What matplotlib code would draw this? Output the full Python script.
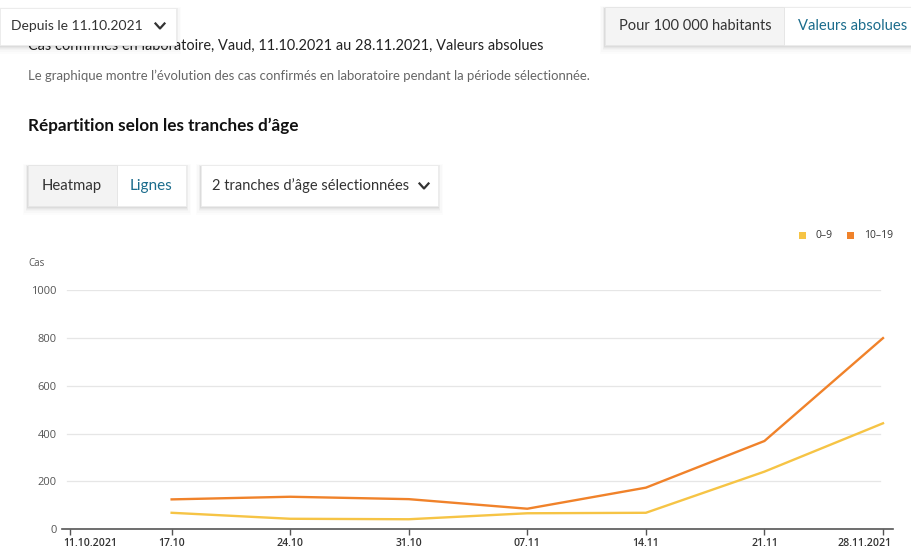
import matplotlib
matplotlib.use("Agg")
import matplotlib.pyplot as plt
from matplotlib.patches import Rectangle
from matplotlib.transforms import ScaledTranslation
import datetime as dt

# ---- data ----
dates = ["17.10.2021", "24.10.2021", "31.10.2021", "07.11.2021", "14.11.2021", "21.11.2021", "28.11.2021"]
age_0_9 = [69, 44, 42, 67, 69, 241, 443]
age_10_19 = [125, 136, 126, 86, 174, 369, 799]
tick_dates = ["11.10.2021", "17.10.2021", "24.10.2021", "31.10.2021", "07.11.2021", "14.11.2021", "21.11.2021", "28.11.2021"]
tick_labels = ["11.10.2021", "17.10", "24.10", "31.10", "07.11", "14.11", "21.11", "28.11.2021"]
y_ticks = [0, 200, 400, 600, 800, 1000]
series_names = ["0–9", "10–19"]
colors = ["#f6c445", "#f0822a"]

W, H = 912, 555
fig = plt.figure(figsize=(W / 100, H / 100), dpi=100)
fig.patch.set_facecolor("white")

UI = "Lato"
CH = "Open Sans"


def fx(x):
    return x / W


def fy(y):
    return 1 - y / H


def box(x0, y0, x1, y1, fc="white", shadow=True, z=5):
    if shadow:
        for d, a in [(1, 0.035), (2, 0.03), (3, 0.025), (4, 0.02), (6, 0.015), (8, 0.01)]:
            r = Rectangle((fx(x0 - d * 0.6), fy(y1 + d + 1)), fx(x1 - x0 + 1.2 * d), (y1 - y0 + d * 1.2) / H,
                          transform=fig.transFigure, facecolor="black", alpha=a, edgecolor="none", zorder=z - 0.5)
            fig.patches.append(r)
    r = Rectangle((fx(x0), fy(y1)), fx(x1 - x0), (y1 - y0) / H, transform=fig.transFigure,
                  facecolor=fc, edgecolor="#ececec", linewidth=0.7, zorder=z)
    fig.patches.append(r)


def chevron(cx, cy, z=7):
    xs = [fx(cx - 4.5), fx(cx), fx(cx + 4.5)]
    ys = [fy(cy - 2.5), fy(cy + 2.5), fy(cy - 2.5)]
    fig.add_artist(plt.Line2D(xs, ys, transform=fig.transFigure, color="#333333", lw=1.6, zorder=z))


# Title (partly hidden by dropdown)
fig.text(fx(28), fy(46), "Cas confirmés en laboratoire, Vaud, 11.10.2021 au 28.11.2021, Valeurs absolues",
         family=UI, fontsize=10.45, color="#222222", va="center", ha="left", zorder=1)

# Dropdown top-left
box(0, 8, 176, 45, z=5)
fig.text(fx(11), fy(26), "Depuis le 11.10.2021", family=UI, fontsize=10, color="#333333", va="center", zorder=7)
chevron(160, 26)

# Right toggle
box(605, 7, 912, 45, z=5)
fig.patches.append(Rectangle((fx(605), fy(45)), fx(179), 38 / H, transform=fig.transFigure,
                             facecolor="#f4f4f4", edgecolor="#e6e6e6", lw=0.7, zorder=6))
fig.text(fx(695.5), fy(26), "Pour 100 000 habitants", family=UI, fontsize=10.5, color="#333333",
         va="center", ha="center", zorder=7)
fig.text(fx(853), fy(26), "Valeurs absolues", family=UI, fontsize=10.6, color="#1b6c8c",
         va="center", ha="center", zorder=7)

# Subtitle
fig.text(fx(28), fy(76), "Le graphique montre l’évolution des cas confirmés en laboratoire pendant la période sélectionnée.",
         family=UI, fontsize=9.45, color="#666666", va="center", ha="left")

# Section heading
fig.text(fx(28), fy(126), "Répartition selon les tranches d’âge", family=UI, fontsize=12.3,
         fontweight="bold", color="#111111", va="center", ha="left")

# Heatmap / Lignes toggle
box(28, 165, 186, 206, shadow=True, z=5)
fig.patches.append(Rectangle((fx(28), fy(206)), fx(89), 41 / H, transform=fig.transFigure,
                             facecolor="#f3f3f3", edgecolor="#e6e6e6", lw=0.7, zorder=6))
fig.text(fx(72), fy(186), "Heatmap", family=UI, fontsize=10.7, color="#333333", va="center", ha="center", zorder=7)
fig.text(fx(151.5), fy(186), "Lignes", family=UI, fontsize=11, color="#1b6c8c", va="center", ha="center", zorder=7)

# Age dropdown
box(201, 165, 438, 206, z=5)
fig.text(fx(212), fy(186), "2 tranches d’âge sélectionnées", family=UI, fontsize=10.5, color="#333333",
         va="center", ha="left", zorder=7)
chevron(424, 186)

# Legend
for name, c, xs, xt in zip(series_names, colors, [803, 851], [816, 864]):
    fig.patches.append(Rectangle((fx(xs - 3.5), fy(239)), fx(7), 7 / H, transform=fig.transFigure,
                                 facecolor=c, edgecolor="none"))
    fig.text(fx(xt), fy(235.5), name, family=CH, fontsize=7.5, color="#333333", va="center", ha="left")

# "Cas" label
fig.text(fx(28), fy(264), "Cas", family=CH, fontsize=7, color="#555555", va="center", ha="left")

# ---- chart axes ----
d0 = dt.datetime.strptime(tick_dates[0], "%d.%m.%Y")
px_per_day = (883 - 70) / 48.0
ax_left, ax_right = 62, 893
xmin = d0 - dt.timedelta(days=(70 - ax_left) / px_per_day)
xmax = d0 + dt.timedelta(days=(ax_right - 70) / px_per_day)

ax = fig.add_axes([fx(ax_left), fy(529.3), fx(ax_right - ax_left), (529.3 - 290) / H])
ax.set_facecolor("none")
x = [dt.datetime.strptime(d, "%d.%m.%Y") for d in dates]
for vals, c in zip([age_0_9, age_10_19], colors):
    ax.plot(x, vals, color=c, lw=1.7, solid_joinstyle="round", zorder=3, clip_on=False)

ax.set_xlim(xmin, xmax)
ax.set_ylim(0, 1000)

gx0 = (67 - ax_left) / (ax_right - ax_left)
gx1 = (880 - ax_left) / (ax_right - ax_left)
for yv in y_ticks[1:]:
    ax.axhline(yv, xmin=gx0, xmax=gx1, color="#e6e6e6", lw=0.9, zorder=1)

for s in ["top", "right", "left"]:
    ax.spines[s].set_visible(False)
ax.spines["bottom"].set_color("#555555")
ax.spines["bottom"].set_linewidth(1.2)

ax.set_yticks(y_ticks)
ax.set_yticklabels([str(v) for v in y_ticks], family=CH, fontsize=8, color="#555555")
ax.tick_params(axis="y", length=0, pad=4)

tx = [dt.datetime.strptime(d, "%d.%m.%Y") for d in tick_dates]
ax.set_xticks(tx)
ax.set_xticklabels(tick_labels, family=CH, fontsize=7.6, color="#333333", fontweight="semibold")
ax.tick_params(axis="x", length=4, width=1, color="#555555", pad=2)
labs = ax.get_xticklabels()
labs[0].set_ha("left")
labs[-1].set_ha("right")
labs[0].set_transform(labs[0].get_transform() + ScaledTranslation(-7 / 100, 0, fig.dpi_scale_trans))
labs[-1].set_transform(labs[-1].get_transform() + ScaledTranslation(9 / 100, 0, fig.dpi_scale_trans))

fig.savefig("out.png", dpi=100, facecolor="white")
